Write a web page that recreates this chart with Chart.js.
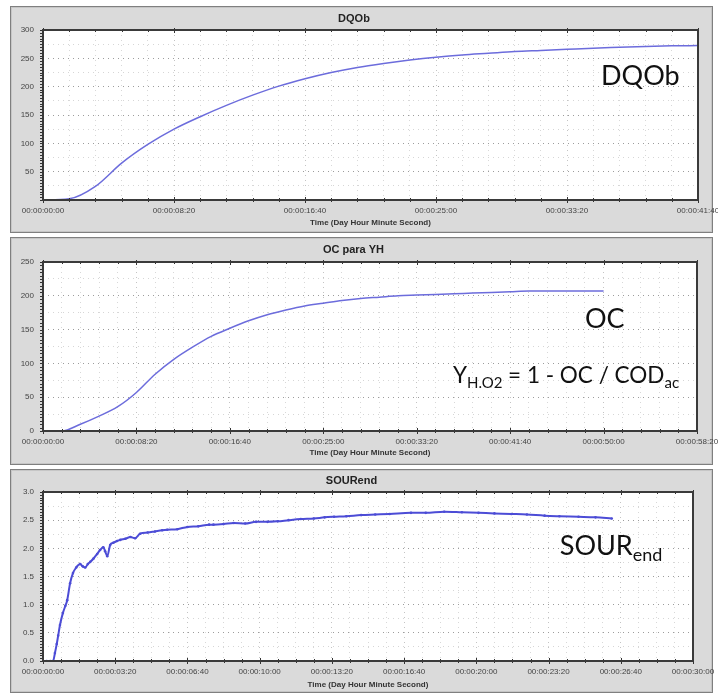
<!DOCTYPE html>
<html>
<head>
<meta charset="utf-8">
<script src="https://cdn.jsdelivr.net/npm/chart.js@4"></script>
<style>
  body { margin: 0; background: #fff; width: 718px; height: 695px; position: relative; overflow: hidden; }
  .frame { position: absolute; left: 10px; width: 703px; box-sizing: border-box;
           background: #dadada; border: 1px solid #7f7f7f; box-shadow: inset 0 0 0 1px #c6c6c6; }
  canvas { position: absolute; left: 0; }
</style>
</head>
<body>
<div class="frame" style="top:6px;height:227px"></div>
<div class="frame" style="top:237px;height:228px"></div>
<div class="frame" style="top:469px;height:224px"></div>
<canvas id="c1" width="718" height="227" style="top:6px"></canvas>
<canvas id="c2" width="718" height="228" style="top:237px"></canvas>
<canvas id="c3" width="718" height="224" style="top:469px"></canvas>
<script>
// DQOb (time in seconds)
const dqoTime = [0, 100, 200, 300, 400, 500, 600, 700, 800, 900, 1000, 1100, 1200,
                 1300, 1400, 1500, 1600, 1700, 1800, 1900, 2000, 2100, 2200, 2300, 2400, 2500];
const dqoValues = [0, 2, 24, 65, 98, 125, 147, 167, 185, 201, 214, 225, 234,
                   241, 247, 252, 256, 259, 262, 264, 266, 268, 269.5, 271, 272, 272.5];

// OC para YH
const ocTime = [0, 100, 200, 300, 400, 500, 600, 700, 800, 900, 1000, 1100, 1200, 1300, 1400, 1500,
                1600, 1700, 1800, 1900, 2000, 2100, 2200, 2300, 2400, 2500, 2600, 2700, 2800, 2900, 3000];
const ocValues = [0, 0, 10, 22, 36, 57, 84, 106, 124, 140, 152, 163, 172, 179, 185, 189,
                  193, 196, 198, 200, 201, 202, 203, 204, 205, 206, 207, 207, 207, 207, 207];

// SOURend
const sourTime = [0, 10, 20, 28, 33, 38, 42, 47, 55, 62, 67, 75, 83, 92, 103, 110, 117, 124, 131, 140,
                  150, 158, 167, 172, 178, 186, 195, 205, 214, 228, 242, 255, 269, 290, 310, 330, 344, 372, 400, 430,
                  460, 472, 500, 528, 560, 590, 622, 650, 680, 714, 750, 780, 806, 840, 881, 920, 960, 1019, 1060, 1111,
                  1160, 1206, 1250, 1297, 1340, 1389, 1430, 1483, 1530, 1575];
const sourValues = [0, 0, 0, 0, 0.14, 0.30, 0.45, 0.64, 0.85, 0.98, 1.08, 1.38, 1.56, 1.66, 1.72, 1.68, 1.66, 1.72, 1.76, 1.82,
                    1.90, 1.97, 2.02, 1.95, 1.86, 2.06, 2.10, 2.13, 2.15, 2.17, 2.20, 2.18, 2.26, 2.28, 2.30, 2.32, 2.33, 2.34, 2.38, 2.39,
                    2.42, 2.42, 2.43, 2.45, 2.44, 2.47, 2.47, 2.48, 2.50, 2.52, 2.53, 2.55, 2.56, 2.57, 2.59, 2.60, 2.61, 2.63, 2.63, 2.65,
                    2.64, 2.63, 2.62, 2.61, 2.60, 2.58, 2.57, 2.56, 2.55, 2.53];

// tick labels
const xLabels1 = ['00:00:00:00', '00:00:08:20', '00:00:16:40', '00:00:25:00', '00:00:33:20', '00:00:41:40'];
const xLabels2 = ['00:00:00:00', '00:00:08:20', '00:00:16:40', '00:00:25:00', '00:00:33:20', '00:00:41:40',
                  '00:00:50:00', '00:00:58:20'];
const xLabels3 = ['00:00:00:00', '00:00:03:20', '00:00:06:40', '00:00:10:00', '00:00:13:20', '00:00:16:40',
                  '00:00:20:00', '00:00:23:20', '00:00:26:40', '00:00:30:00'];
const yLabels1 = ['', '50', '100', '150', '200', '250', '300'];
const yLabels2 = ['0', '50', '100', '150', '200', '250'];
const yLabels3 = ['0.0', '0.5', '1.0', '1.5', '2.0', '2.5', '3.0'];

Chart.defaults.font.family = '"Liberation Sans", Arial, sans-serif';
Chart.defaults.color = '#444';

function onStep(value, step) {
    const i = Math.round(value / step);
    return Math.abs(value - i * step) < 1e-6 ? i : -1;
}

const panelPlugin = {
    id: 'panel',
    beforeDraw(chart) {
        const a = chart.chartArea, ctx = chart.ctx;
        ctx.save();
        ctx.fillStyle = '#fff';
        ctx.fillRect(a.left, a.top, a.right - a.left, a.bottom - a.top);
        ctx.restore();
    },
    afterDraw(chart, args, opts) {
        const ctx = chart.ctx, a = chart.chartArea;
        const x = chart.scales.x, y = chart.scales.y;
        ctx.save();
        ctx.strokeStyle = '#333';
        ctx.lineWidth = 1;
        // small ruler marks on the left axis
        const n = Math.round((y.max - y.min) / opts.yRuler);
        for (let i = 0; i <= n; i++) {
            const py = Math.round(y.getPixelForValue(y.min + i * opts.yRuler)) + 0.5;
            ctx.beginPath();
            ctx.moveTo(a.left - 3, py);
            ctx.lineTo(a.left, py);
            ctx.stroke();
        }
        // marks on top and bottom edges
        x.ticks.forEach(t => {
            const px = Math.round(x.getPixelForValue(t.value)) + 0.5;
            const len = onStep(t.value, opts.xMajor) >= 0 ? 3 : 2;
            ctx.beginPath();
            ctx.moveTo(px, a.bottom - len);
            ctx.lineTo(px, a.bottom + len);
            ctx.moveTo(px, a.top - len + 1);
            ctx.lineTo(px, a.top + len);
            ctx.stroke();
        });
        ctx.lineWidth = 2;
        ctx.strokeStyle = '#3a3a3a';
        ctx.strokeRect(a.left, a.top, a.right - a.left, a.bottom - a.top);
        // annotations
        ctx.fillStyle = '#111';
        ctx.textBaseline = 'alphabetic';
        opts.notes.forEach(note => {
            let cx = x.getPixelForValue(note.x);
            const by = y.getPixelForValue(note.y);
            note.parts.forEach(p => {
                ctx.font = p[1] + 'px Lato, "Open Sans", sans-serif';
                ctx.fillText(p[0], cx, by + p[2]);
                cx += ctx.measureText(p[0]).width;
            });
        });
        ctx.restore();
    }
};

function makeChart(id, c) {
    const points = c.time.map((t, i) => ({ x: t, y: c.values[i] }));
    return new Chart(document.getElementById(id), {
        type: 'line',
        data: {
            datasets: [{
                data: points,
                borderColor: c.color,
                backgroundColor: c.color,
                borderWidth: c.lineWidth,
                pointRadius: c.pointRadius,
                pointBorderWidth: 0,
                cubicInterpolationMode: 'monotone',
                fill: false
            }]
        },
        options: {
            responsive: false,
            animation: false,
            events: [],
            layout: { padding: { left: 10, right: c.padRight, top: 0, bottom: 0 } },
            plugins: {
                legend: { display: false },
                tooltip: { enabled: false },
                title: {
                    display: true,
                    text: c.title,
                    color: '#222',
                    font: { size: 11, weight: 'bold', lineHeight: 1 },
                    padding: { top: c.titlePad[0], bottom: c.titlePad[1] }
                },
                panel: { yRuler: c.yRuler, xMajor: c.xMajor, notes: c.notes }
            },
            scales: {
                x: {
                    type: 'linear',
                    min: 0,
                    max: c.xMax,
                    afterFit: s => { s.height = c.xHeight; s.paddingLeft = 0; s.paddingRight = 0; },
                    ticks: {
                        stepSize: c.xMinor,
                        autoSkip: false,
                        maxRotation: 0,
                        padding: 6,
                        font: { size: 8 },
                        callback: v => {
                            const i = onStep(v, c.xMajor);
                            return i >= 0 ? c.xLabels[i] : '';
                        }
                    },
                    grid: {
                        drawTicks: false,
                        color: ctx => onStep(ctx.tick.value, c.xMajor) >= 0 ? '#c4c4c4' : '#d8d8d8'
                    },
                    border: { display: false, dash: [1, 4] },
                    title: {
                        display: true,
                        text: 'Time (Day Hour Minute Second)',
                        color: '#333',
                        font: { size: 8, weight: 'bold' },
                        padding: { top: 0, bottom: c.xTitlePad }
                    }
                },
                y: {
                    min: 0,
                    max: c.yMax,
                    afterFit: s => { s.width = 33; s.paddingTop = 0; s.paddingBottom = 0; },
                    ticks: {
                        stepSize: c.yMajor / 2,
                        padding: 9,
                        font: { size: 8 },
                        callback: v => {
                            const i = onStep(v, c.yMajor);
                            return i >= 0 ? c.yLabels[i] : '';
                        }
                    },
                    grid: {
                        drawTicks: false,
                        color: ctx => onStep(ctx.tick.value, c.yMajor) >= 0 ? '#9c9c9c' : '#d6d6d6'
                    },
                    border: { display: false, dash: [1, 4] }
                }
            }
        },
        plugins: [panelPlugin]
    });
}

makeChart('c1', {
    title: 'DQOb', time: dqoTime, values: dqoValues,
    color: '#6c6cdc', lineWidth: 1.5, pointRadius: 0,
    xMax: 2500, xMinor: 100, xMajor: 500, xLabels: xLabels1,
    yMax: 300, yMajor: 50, yRuler: 5, yLabels: yLabels1,
    padRight: 20, titlePad: [7, 6], xHeight: 33, xTitlePad: 5,
    notes: [{ x: 2130, y: 203, parts: [['DQOb', 27, 0]] }]
});

makeChart('c2', {
    title: 'OC para YH', time: ocTime, values: ocValues,
    color: '#6c6cdc', lineWidth: 1.5, pointRadius: 0,
    xMax: 3500, xMinor: 100, xMajor: 500, xLabels: xLabels2,
    yMax: 250, yMajor: 50, yRuler: 5, yLabels: yLabels2,
    padRight: 21, titlePad: [7, 7], xHeight: 34, xTitlePad: 7,
    notes: [
        { x: 2900, y: 152, parts: [['OC', 27, 0]] },
        { x: 2194, y: 71, parts: [['Y', 22.5, 0], ['H.O2', 15, 5], [' = 1 - OC / COD', 22.5, 0], ['ac', 15, 5]] }
    ]
});

makeChart('c3', {
    title: 'SOURend', time: sourTime, values: sourValues,
    color: '#4c4cd6', lineWidth: 2, pointRadius: 1.3,
    xMax: 1800, xMinor: 50, xMajor: 200, xLabels: xLabels3,
    yMax: 3, yMajor: 0.5, yRuler: 0.05, yLabels: yLabels3,
    padRight: 25, titlePad: [6, 6], xHeight: 32, xTitlePad: 3,
    notes: [{ x: 1431, y: 1.88, parts: [['SOUR', 27, 0], ['end', 18, 6]] }]
});
</script>
</body>
</html>
